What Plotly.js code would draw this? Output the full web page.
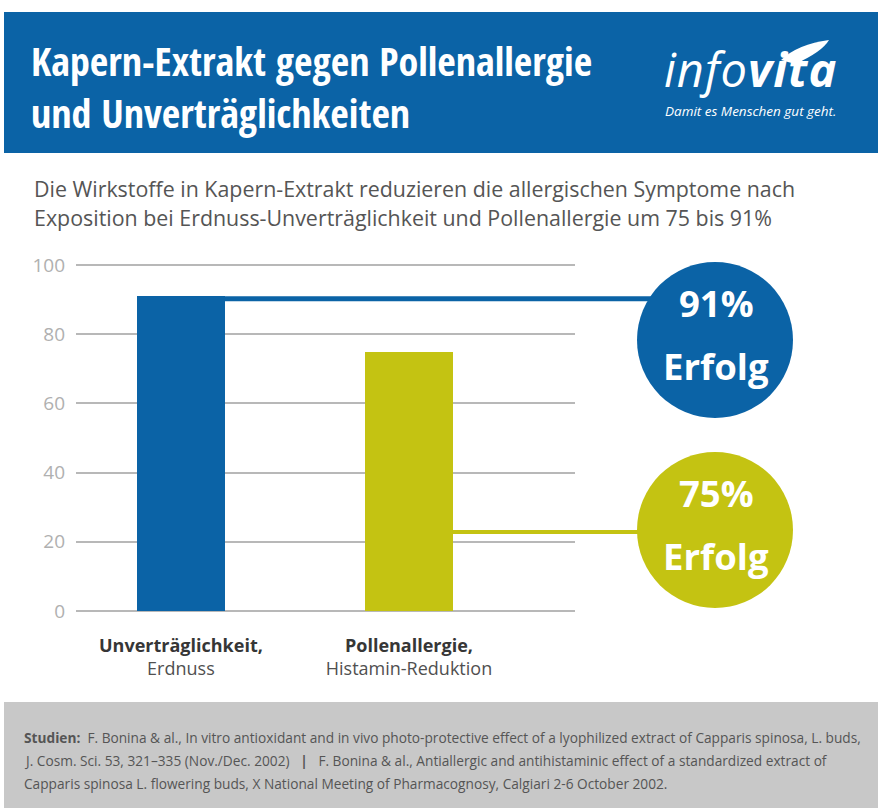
<!DOCTYPE html>
<html><head><meta charset="utf-8">
<script src="https://cdn.plot.ly/plotly-3.0.1.min.js"></script>
<style>html,body{margin:0;padding:0;background:#fff;}#chart{width:878px;height:808px;}
.xtick text{font-stretch:92%;}
.ytick text{font-stretch:100%;}
</style>
</head><body><div id="chart"></div>
<script>
// ---- data ----
const categories = ['Unverträglichkeit,', 'Pollenallergie,'];
const subLabels = ['Erdnuss', 'Histamin-Reduktion'];
const values = [91, 75];
const badgeText = ['91%', '75%'];
const badgeSub = ['Erfolg', 'Erfolg'];
const yTicks = [0, 20, 40, 60, 80, 100];

const colors = ['#0b63a6', '#c4c312'];
const COND = '"Open Sans Condensed", "Roboto Condensed", "DejaVu Sans Condensed", sans-serif';
const OPEN = '"Open Sans", "Noto Sans", sans-serif';

// ---- geometry (pixels) ----
const L = 76, R = 575, T = 263, B = 613;
const xr = [-0.46, 1.728];
const yr = [-0.578, 100.578];
const barW = 0.386;
const px2x = p => (p - L) / (R - L);
const py2y = p => (B - p) / (B - T);
const dx2px = x => L + (x - xr[0]) / (xr[1] - xr[0]) * (R - L);
const dy2py = v => B - (v - yr[0]) / (yr[1] - yr[0]) * (B - T);

const trace = {
  type: 'bar',
  x: categories.map((c, i) => i),
  y: values,
  width: barW,
  marker: {color: colors},
  hoverinfo: 'skip'
};

const shapes = [];
const annotations = [];
const stretchRules = [];
function rectPx(x0, y0, x1, y1, color) {
  shapes.push({type: 'rect', xref: 'paper', yref: 'paper', x0: px2x(x0), x1: px2x(x1), y0: py2y(y1), y1: py2y(y0),
    fillcolor: color, line: {width: 0}, layer: 'below'});
}
function textPx(x, y, text, font, xanchor, stretch, extra) {
  if (stretch) stretchRules.push('text[data-unformatted="' + CSS.escape(text) + '"]{font-stretch:' + stretch + ';' + (extra || '') + '}');
  annotations.push({xref: 'paper', yref: 'paper', x: px2x(x), y: py2y(y), text: text, showarrow: false,
    xanchor: xanchor || 'left', yanchor: 'middle', align: xanchor || 'left', font: font});
}

// header band
rectPx(4, 12, 878, 153, '#0b63a6');
textPx(29, 86.5, 'Kapern-Extrakt gegen Pollenallergie<br>und Unverträglichkeiten', {family: COND, size: 40, color: '#ffffff', weight: 700});
// logo
textPx(839, 69, '<i>info<b>vita</b></i>', {family: OPEN, size: 47, color: '#ffffff', weight: 400}, 'right', '100%', 'letter-spacing:1px;');
textPx(838, 110.5, '<i>Damit es Menschen gut geht.</i>', {family: OPEN, size: 13.5, color: '#ffffff'}, 'right', '100%');
const sw = [[781,60],[798,44],[829,40],[822,52],[795,64]].map(p => [px2x(p[0]), py2y(p[1])]);
shapes.push({type: 'path', xref: 'paper', yref: 'paper', fillcolor: '#ffffff', line: {width: 0},
  path: `M ${sw[0][0]} ${sw[0][1]} Q ${sw[1][0]} ${sw[1][1]} ${sw[2][0]} ${sw[2][1]} Q ${sw[3][0]} ${sw[3][1]} ${sw[4][0]} ${sw[4][1]} Z`});

// subtitle
textPx(32, 189, 'Die Wirkstoffe in Kapern-Extrakt reduzieren die allergischen Symptome nach', {family: OPEN, size: 21.4, color: '#555555'});
textPx(32, 217, 'Exposition bei Erdnuss-Unverträglichkeit und Pollenallergie um 75 bis 91%', {family: OPEN, size: 21.4, color: '#555555'});

// badges + connectors
const badgeCY = [340, 530], badgeCX = 715, badgeR = 78;
values.forEach((v, i) => {
  const cy = badgeCY[i];
  const lineW = i === 0 ? 5 : 4;
  const ly = i === 0 ? dy2py(v) + lineW / 2 : cy + 2;
  const dyc = Math.abs(ly - cy);
  const lx1 = badgeCX - Math.sqrt(Math.max(badgeR * badgeR - dyc * dyc, 0)) + 2;
  const lx0 = dx2px(i + barW / 2);
  shapes.push({type: 'line', xref: 'paper', yref: 'paper', x0: px2x(lx0), x1: px2x(lx1), y0: py2y(ly), y1: py2y(ly),
    line: {color: colors[i], width: lineW}});
  shapes.push({type: 'circle', xref: 'paper', yref: 'paper', x0: px2x(badgeCX - badgeR), x1: px2x(badgeCX + badgeR),
    y0: py2y(cy + badgeR), y1: py2y(cy - badgeR), fillcolor: colors[i], line: {width: 0}});
  textPx(badgeCX + 1, cy - 37, badgeText[i], {family: OPEN, size: 36.5, color: '#ffffff', weight: 700}, 'center', '95%');
  textPx(badgeCX + 1, cy + 26, badgeSub[i], {family: OPEN, size: 36.5, color: '#ffffff', weight: 700}, 'center', '95%');
});

// footer
rectPx(4, 702, 878, 808, '#c8c8c8');
const FF = {family: OPEN, size: 13.7, color: '#555555'};
textPx(22, 737, '<b>Studien:</b>  F. Bonina &amp; al., In vitro antioxidant and in vivo photo-protective effect of a lyophilized extract of Capparis spinosa, L. buds,', FF, 'left', '92%');
textPx(22, 760, 'J. Cosm. Sci. 53, 321–335 (Nov./Dec. 2002)   <b>|</b>   F. Bonina &amp; al., Antiallergic and antihistaminic effect of a standardized extract of', FF, 'left', '92%');
textPx(22, 783, 'Capparis spinosa L. flowering buds, X National Meeting of Pharmacognosy, Calgiari 2-6 October 2002.', FF, 'left', '92%');

const st = document.createElement('style');
st.textContent = stretchRules.join('\n');
document.head.appendChild(st);

const layout = {
  width: 878, height: 808,
  margin: {l: L, r: 878 - R, t: T, b: 808 - B, pad: 0},
  paper_bgcolor: '#ffffff', plot_bgcolor: 'rgba(0,0,0,0)',
  showlegend: false,
  xaxis: {range: xr, tickvals: categories.map((c, i) => i),
    ticktext: categories.map((c, i) => '<span style="color:#363636;font-weight:700">' + c + '</span><br>' + subLabels[i]),
    tickfont: {family: OPEN, size: 18, color: '#505050'}, showgrid: false, zeroline: false, showline: false,
    ticks: '', ticklabelstandoff: 20, fixedrange: true},
  yaxis: {range: yr, tickvals: yTicks, showgrid: true, gridcolor: '#b8b8b8', gridwidth: 2, zeroline: false,
    showline: false, ticks: '', tickfont: {family: OPEN, size: 19, color: '#b0b0b0'}, ticklabelstandoff: 10, fixedrange: true},
  bargap: 0,
  shapes: shapes,
  annotations: annotations
};

Plotly.newPlot('chart', [trace], layout, {displayModeBar: false, staticPlot: true});
</script></body></html>
